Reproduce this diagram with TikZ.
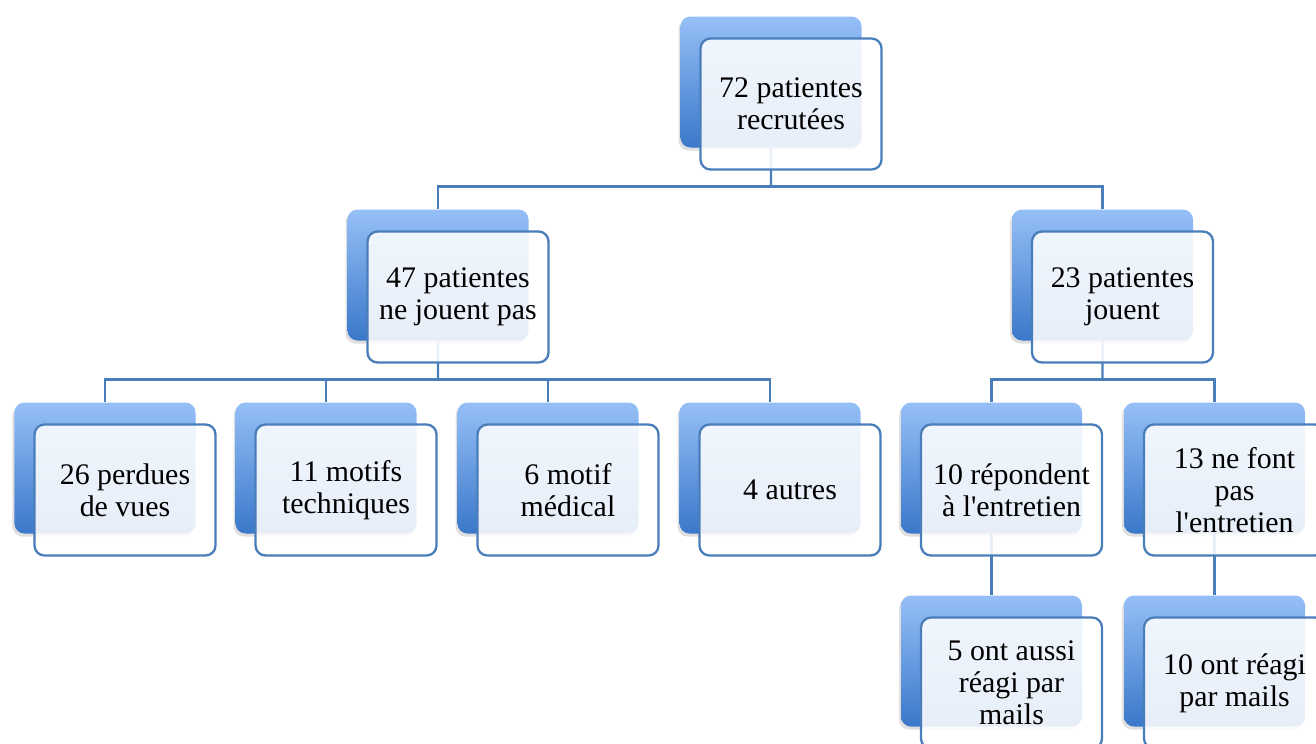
\documentclass[tikz,border=0pt]{standalone}
\usepackage{fontspec}
\setmainfont{Liberation Serif}
\usetikzlibrary{positioning,shadows,calc}
\definecolor{boxLine}{HTML}{4A7EBB}
\definecolor{boxTop}{HTML}{96BFF7}
\definecolor{boxBottom}{HTML}{3A78C9}
\tikzstyle{backBox} = [rectangle, rounded corners=0.2cm, minimum width=3.62cm, minimum height=2.62cm, top color=boxTop, bottom color=boxBottom, draw=none, drop shadow={shadow xshift=-0.04cm, shadow yshift=-0.06cm, opacity=0.25}]
\tikzstyle{textBox} = [rectangle, rounded corners=0.2cm, minimum width=3.62cm, minimum height=2.62cm, draw=boxLine, line width=1.3pt, fill=white, fill opacity=0.88, text opacity=1, align=center, font=\fontsize{17}{18.3}\selectfont, xshift=0.4cm, yshift=-0.44cm]
\tikzstyle{link} = [line width=1.3pt, draw=boxLine, -]

\begin{document}
\begin{tikzpicture}[node distance=3.86cm]
\useasboundingbox (0,0) rectangle (26.32,-14.86);
% blue boxes behind
\node (recrut) [backBox] at (15.42,-1.64) {};
\node (nonJeu) [backBox, below of=recrut, xshift=-6.66cm] {};
\node (jeu) [backBox, below of=recrut, xshift=6.63cm] {};
\node (perdues) [backBox, below of=nonJeu, xshift=-6.66cm] {};
\node (techn) [backBox, below of=nonJeu, xshift=-2.24cm] {};
\node (medical) [backBox, below of=nonJeu, xshift=2.2cm] {};
\node (autres) [backBox, below of=nonJeu, xshift=6.64cm] {};
\node (repond) [backBox, below of=jeu, xshift=-2.22cm] {};
\node (nonRepond) [backBox, below of=jeu, xshift=2.24cm] {};
\node (mailsA) [backBox, below of=repond] {};
\node (mailsB) [backBox, below of=nonRepond] {};
% links
\coordinate (bus1) at ($(recrut.south)!0.63!(recrut.south |- nonJeu.north)$);
\coordinate (bus2) at ($(nonJeu.south)!0.63!(nonJeu.south |- perdues.north)$);
\coordinate (bus3) at ($(jeu.south)!0.63!(jeu.south |- repond.north)$);
\draw [link] (recrut.south) -- (bus1);
\foreach \n in {nonJeu, jeu} \draw [link] (bus1) -| (\n.north);
\draw [link] (nonJeu.south) -- (bus2);
\foreach \n in {perdues, techn, medical, autres} \draw [link] (bus2) -| (\n.north);
\draw [link] (jeu.south) -- (bus3);
\foreach \n in {repond, nonRepond} \draw [link] (bus3) -| (\n.north);
\draw [link] (repond.south) -- (mailsA.north);
\draw [link] (nonRepond.south) -- (mailsB.north);
% text boxes
\node (recrutT) [textBox] at (recrut) {72 patientes\\recrutées};
\node (nonJeuT) [textBox] at (nonJeu) {47 patientes\\ne jouent pas};
\node (jeuT) [textBox] at (jeu) {23 patientes\\jouent};
\node (perduesT) [textBox] at (perdues) {26 perdues\\de vues};
\node (technT) [textBox] at (techn) {11 motifs\\techniques};
\node (medicalT) [textBox] at (medical) {6 motif\\médical};
\node (autresT) [textBox] at (autres) {4 autres};
\node (repondT) [textBox] at (repond) {10 répondent\\à l\textquotesingle entretien};
\node (nonRepondT) [textBox] at (nonRepond) {13 ne font\\pas\\l\textquotesingle entretien};
\node (mailsAT) [textBox] at (mailsA) {5 ont aussi\\réagi par\\mails};
\node (mailsBT) [textBox] at (mailsB) {10 ont réagi\\par mails};
\end{tikzpicture}
\end{document}
